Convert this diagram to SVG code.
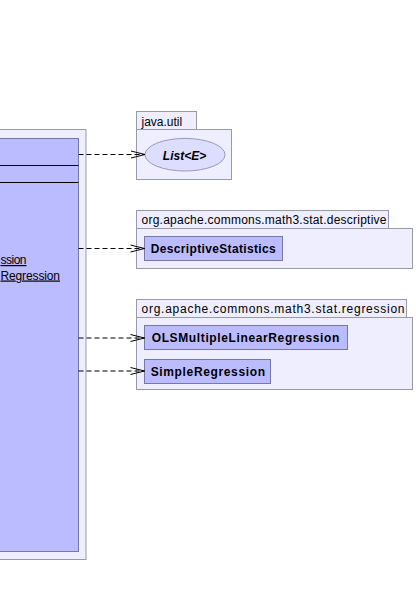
<svg xmlns="http://www.w3.org/2000/svg" width="416" height="597" viewBox="0 0 416 597">
<defs>
<style>
.pkg{fill:#EEEEFF;stroke:#9999AA;stroke-width:1}
.cls{fill:#BBBBFF;stroke:#7777AA;stroke-width:1}
.dep{fill:none;stroke:#000;stroke-width:1;stroke-dasharray:5,3}
.t{font-family:"Liberation Sans",Arial,sans-serif;font-size:12px;fill:#000}
.b{font-weight:bold}
</style>
<marker id="open" markerWidth="16" markerHeight="10" refX="15" refY="5" orient="auto" markerUnits="userSpaceOnUse">
<path d="M1,1.5 L15,5 L1,8.5" fill="none" stroke="#000" stroke-width="1"/>
</marker>
</defs>
<rect width="416" height="597" fill="#FFFFFF"/>
<g id="main">
<rect class="pkg" x="-10" y="129.5" width="96" height="430"/>
<rect class="cls" x="-10" y="138.5" width="88.5" height="413"/>
<line x1="-10" y1="165.5" x2="78.5" y2="165.5" stroke="#000"/>
<line x1="-10" y1="182.5" x2="78.5" y2="182.5" stroke="#000"/>
<text class="t" x="0.5" y="264" textLength="26" lengthAdjust="spacing" text-decoration="underline">ssion</text>
<text class="t" x="0.5" y="279.5" textLength="59.5" lengthAdjust="spacing" text-decoration="underline">Regression</text>
</g>
<g id="pkg-java-util">
<rect class="pkg" x="136.5" y="111.5" width="60" height="18"/>
<rect class="pkg" x="136.5" y="129.5" width="95" height="50"/>
<text class="t" x="141.5" y="125.5">java.util</text>
</g>
<g id="List">
<ellipse cx="185" cy="154.7" rx="40" ry="16.3" fill="#DDDDFF" stroke="#9999BB"/>
<text class="t b" x="184.5" y="160" text-anchor="middle" font-style="italic">List&lt;E&gt;</text>
</g>
<g id="pkg-descriptive">
<rect class="pkg" x="136.5" y="210.5" width="252" height="18"/>
<rect class="pkg" x="136.5" y="228.5" width="276" height="40"/>
<text class="t" x="141.5" y="224" textLength="245" lengthAdjust="spacing">org.apache.commons.math3.stat.descriptive</text>
</g>
<g id="DescriptiveStatistics">
<rect class="cls" x="144.5" y="236.5" width="138" height="24"/>
<text class="t b" x="150.7" y="253" textLength="125" lengthAdjust="spacing">DescriptiveStatistics</text>
</g>
<g id="pkg-regression">
<rect class="pkg" x="136.5" y="299.5" width="270" height="18"/>
<rect class="pkg" x="136.5" y="317.5" width="276" height="72"/>
<text class="t" x="141.5" y="313.3" textLength="263" lengthAdjust="spacing">org.apache.commons.math3.stat.regression</text>
</g>
<g id="OLSMultipleLinearRegression">
<rect class="cls" x="144.5" y="325.5" width="203" height="24"/>
<text class="t b" x="151.7" y="342.3" textLength="187.6" lengthAdjust="spacing">OLSMultipleLinearRegression</text>
</g>
<g id="SimpleRegression">
<rect class="cls" x="144.5" y="359.5" width="126" height="24"/>
<text class="t b" x="150.7" y="376" textLength="114.3" lengthAdjust="spacing">SimpleRegression</text>
</g>
<g id="connectors">
<line class="dep" x1="78.5" y1="154.5" x2="145" y2="154.5" marker-end="url(#open)"/>
<line class="dep" x1="78.5" y1="248.5" x2="144.5" y2="248.5" marker-end="url(#open)"/>
<line class="dep" x1="78.5" y1="338" x2="144.5" y2="338" marker-end="url(#open)"/>
<line class="dep" x1="78.5" y1="371" x2="144.5" y2="371" marker-end="url(#open)"/>
</g>
</svg>
